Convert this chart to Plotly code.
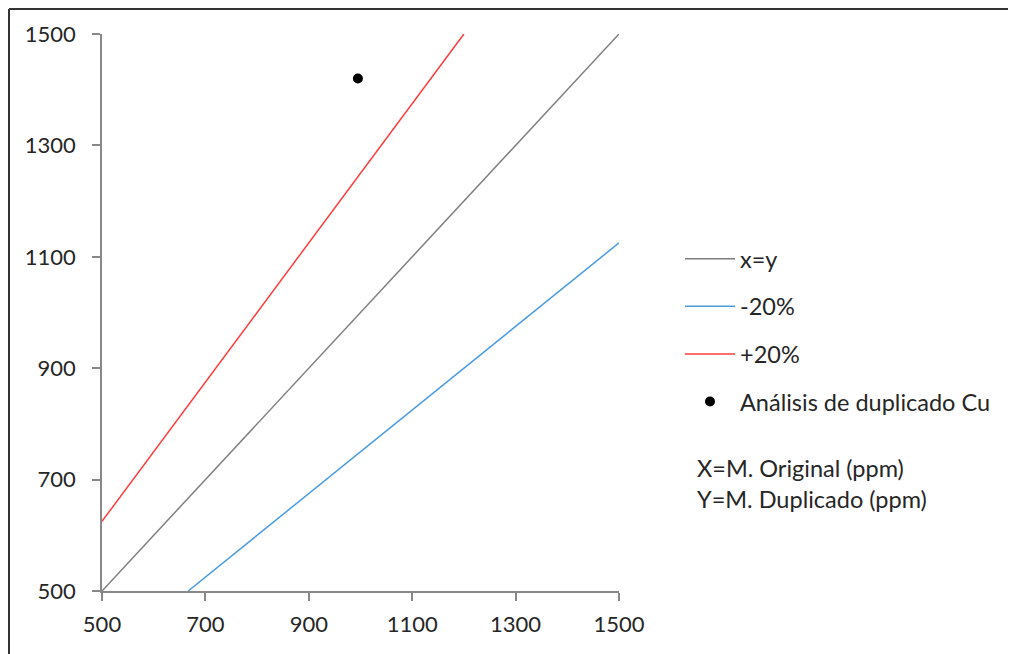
import plotly.graph_objects as go

# Data
identity_x = [500, 1500]
identity_y = [500, 1500]
minus20_x = [666.67, 1500]
minus20_y = [500, 1125]
plus20_x = [500, 1200]
plus20_y = [625, 1500]
dup_x = [995]
dup_y = [1420]
tick_vals = [500, 700, 900, 1100, 1300, 1500]

FONT = "Lato"
W, H = 1016, 654
OFF = 8  # page body offset
L, T = 94, 26
pw, ph = 517, 557
R = W - L - pw
B = H - T - ph

def px_x(p):
    return (p - OFF - L) / pw

def px_y(p):
    return (OFF + T + ph - p) / ph

fig = go.Figure()
fig.add_trace(go.Scatter(x=identity_x, y=identity_y, mode="lines", name="x=y",
                         line=dict(color="#7f7f7f", width=1.5), legendgroup="a"))
fig.add_trace(go.Scatter(x=minus20_x, y=minus20_y, mode="lines", name="-20%",
                         line=dict(color="#4a9be0", width=1.5), legendgroup="b"))
fig.add_trace(go.Scatter(x=plus20_x, y=plus20_y, mode="lines", name="+20%",
                         line=dict(color="#ff3b3b", width=1.5), legendgroup="c"))
fig.add_trace(go.Scatter(x=dup_x, y=dup_y, mode="markers", name="Análisis de duplicado Cu",
                         marker=dict(color="black", size=10), legendgroup="d"))

axis_common = dict(
    range=[500, 1500], tickvals=tick_vals, showgrid=False, zeroline=False,
    showline=True, linecolor="#888888", linewidth=1.5,
    ticks="outside", ticklen=8, tickcolor="#888888", tickwidth=1.5,
    tickfont=dict(family=FONT, size=22, color="#262626"),
)

fig.update_xaxes(**axis_common, ticklabelstandoff=5)
fig.update_yaxes(**axis_common, ticklabelstandoff=12)

fig.update_layout(
    width=W, height=H,
    margin=dict(l=L, r=R, t=T, b=B),
    plot_bgcolor="white", paper_bgcolor="white",
    font=dict(family=FONT, size=23.5, color="#262626"),
    legend=dict(x=px_x(680), y=px_y(237), xanchor="left", yanchor="top",
                font=dict(family=FONT, size=23.5, color="#262626"),
                traceorder="grouped", tracegroupgap=14, itemwidth=50,
                bgcolor="rgba(0,0,0,0)"),
    annotations=[dict(
        x=px_x(695), y=px_y(452), xref="paper", yref="paper",
        xanchor="left", yanchor="top", align="left", showarrow=False,
        text="X=M. Original (ppm)<br>Y=M. Duplicado (ppm)",
        font=dict(family=FONT, size=23.5, color="#262626"),
    )],
    shapes=[
        dict(type="line", xref="paper", yref="paper",
             x0=px_x(9), x1=px_x(9), y0=px_y(9), y1=px_y(700),
             line=dict(color="#333333", width=2)),
        dict(type="line", xref="paper", yref="paper",
             x0=px_x(9), x1=px_x(1100), y0=px_y(9), y1=px_y(9),
             line=dict(color="#333333", width=2)),
    ],
)

fig.write_html("out.html")
